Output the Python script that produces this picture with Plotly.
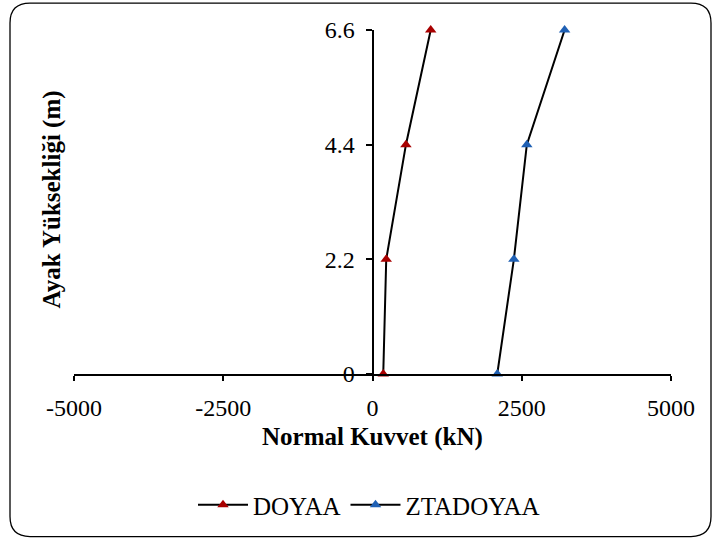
import plotly.graph_objects as go

heights = [0, 2.2, 4.4, 6.6]
doyaa = [180, 230, 560, 975]
ztadoyaa = [2090, 2368, 2585, 3218]
xticks = [-5000, -2500, 0, 2500, 5000]
xticklabels = ["-5000", "-2500", "0", "2500", "5000"]
yticks = [0, 2.2, 4.4, 6.6]
yticklabels = ["0", "2.2", "4.4", "6.6"]

FONT = "Liberation Serif, Times New Roman, serif"
FS_TICK = 24
FS_TITLE = 25
FS_LEG = 25
L, R, T, B = 74, 41, 30, 164
W, H = 712, 539
pw, ph = W - L - R, H - T - B

fig = go.Figure()
fig.add_trace(go.Scatter(x=doyaa, y=heights, mode="lines+markers", name="DOYAA",
                         line=dict(color="black", width=2), cliponaxis=False,
                         marker=dict(symbol="triangle-up", size=10, color="#A80000")))
fig.add_trace(go.Scatter(x=ztadoyaa, y=heights, mode="lines+markers", name="ZTADOYAA",
                         line=dict(color="black", width=2), cliponaxis=False,
                         marker=dict(symbol="triangle-up", size=10, color="#1F60B4")))

def px2paper(x, y):
    return (x - L) / pw, (H - B - y) / ph

x0, y0, x1, y1, r = 10, 3, 711, 538, 20
def P(x, y):
    a, b = px2paper(x, y)
    return f"{a:.5f},{b:.5f}"
path = (f"M {P(x0 + r, y0)} L {P(x1 - r, y0)} Q {P(x1, y0)} {P(x1, y0 + r)} "
        f"L {P(x1, y1 - r)} Q {P(x1, y1)} {P(x1 - r, y1)} "
        f"L {P(x0 + r, y1)} Q {P(x0, y1)} {P(x0, y1 - r)} "
        f"L {P(x0, y0 + r)} Q {P(x0, y0)} {P(x0 + r, y0)} Z")
fig.add_shape(type="path", path=path, xref="paper", yref="paper",
              line=dict(color="black", width=1.3))

ytx, yty = px2paper(52, 200)
fig.add_annotation(text="<b>Ayak Yüksekliği (m)</b>", xref="paper", yref="paper",
                   x=ytx, y=yty, textangle=-90, showarrow=False,
                   xanchor="center", yanchor="middle",
                   font=dict(family=FONT, size=FS_TITLE, color="black"))
xtx, xty = px2paper(372, 438)
fig.add_annotation(text="<b>Normal Kuvvet (kN)</b>", xref="paper", yref="paper",
                   x=xtx, y=xty, showarrow=False, xanchor="center", yanchor="middle",
                   font=dict(family=FONT, size=FS_TITLE, color="black"))

lgx, lgy = px2paper(369, 505)
tickfont = dict(family=FONT, size=FS_TICK, color="black")
fig.update_layout(
    width=W, height=H,
    margin=dict(l=L, r=R, t=T, b=B),
    paper_bgcolor="white", plot_bgcolor="white",
    font=dict(family=FONT, size=FS_TICK, color="black"),
    showlegend=True,
    legend=dict(orientation="h", x=lgx, y=lgy, xanchor="center", yanchor="middle",
                font=dict(family=FONT, size=FS_LEG, color="black"), itemwidth=50,
                bgcolor="rgba(0,0,0,0)"),
    xaxis=dict(range=[-5000, 5000], tickvals=xticks, ticktext=xticklabels,
               showgrid=False, zeroline=False, showline=True, linecolor="black",
               linewidth=2, ticks="outside", ticklen=5, tickwidth=2, tickcolor="black",
               ticklabelstandoff=6, tickfont=tickfont),
    yaxis=dict(range=[0, 6.6], tickvals=yticks, ticktext=yticklabels,
               showgrid=False, zeroline=False, showline=True, linecolor="black",
               linewidth=2, ticks="outside", ticklen=6, tickwidth=2, tickcolor="black",
               anchor="free", position=0.5, tickfont=tickfont, ticklabelstandoff=6),
)
fig.write_html("out.html", config={"displayModeBar": False},
               post_script="document.body.style.margin='0';document.body.style.overflow='hidden';")
